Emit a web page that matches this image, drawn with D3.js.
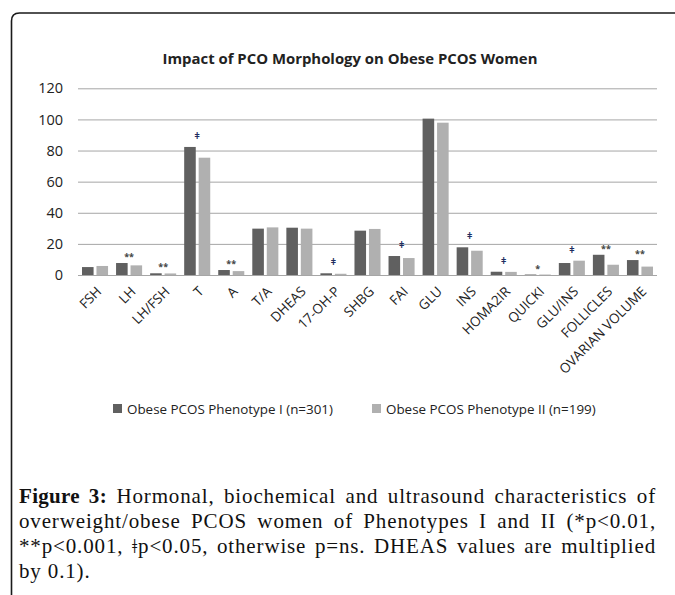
<!DOCTYPE html>
<html>
<head>
<meta charset="utf-8">
<script src="https://cdn.jsdelivr.net/npm/d3@7"></script>
<style>
  html, body { margin: 0; padding: 0; background: #fff; }
  #wrap { position: relative; width: 675px; height: 595px; overflow: hidden; }
  svg { position: absolute; left: 0; top: 0; }
  #caption { position: absolute; left: 19px; top: 484px; width: 637px;
    font-family: "Liberation Serif", "Times New Roman", serif; font-size: 21px; letter-spacing: 0.85px; color: #111; }
  #caption .ln { height: 25px; line-height: 25px; white-space: nowrap; }
  #caption .j { text-align: justify; text-align-last: justify; }
  #caption b { letter-spacing: 0.3px; }
</style>
</head>
<body>
<div id="wrap">
  <svg id="chart" width="675" height="595"></svg>
  <div id="caption"></div>
</div>
<script>
const categories = ["FSH","LH","LH/FSH","T","A","T/A","DHEAS","17-OH-P","SHBG","FAI","GLU","INS","HOMA2IR","QUICKI","GLU/INS","FOLLICLES","OVARIAN VOLUME"];
const phenotypeI  = [5.1, 7.7, 1.1, 82.3, 3.2, 29.8, 30.4, 1.1, 28.5, 12.2, 100.5, 17.8, 2.1, 0.3, 7.7, 13.0, 9.6];
const phenotypeII = [5.8, 6.2, 1.0, 75.4, 2.5, 30.6, 29.8, 0.8, 29.6, 10.9, 97.9, 15.6, 2.0, 0.3, 9.2, 6.6, 5.4];
const significance = ["", "**", "**", "ǂ", "**", "", "", "ǂ", "", "ǂ", "", "ǂ", "ǂ", "*", "ǂ", "**", "**"];
const seriesNames = ["Obese PCOS Phenotype I (n=301)", "Obese PCOS Phenotype II (n=199)"];
const yTicks = [0, 20, 40, 60, 80, 100, 120];
const title = "Impact of PCO Morphology on Obese PCOS Women";
const captionLines = [
  ["Figure 3:", " Hormonal, biochemical and ultrasound characteristics of"],
  ["", "overweight/obese PCOS women of Phenotypes I and II (*p<0.01,"],
  ["", "**p<0.001, ǂp<0.05, otherwise p=ns. DHEAS values are multiplied"],
  ["", "by 0.1)."]
];

const colors = ["#606060", "#b0b0b0"];
const sans = "'Open Sans', 'Liberation Sans', sans-serif";

const svg = d3.select("#chart");

// frame
svg.append("path")
  .attr("d", "M11.5,595 V21 Q11.5,13 19.5,13 H675")
  .attr("fill", "none").attr("stroke", "#1a1a1a").attr("stroke-width", 1.6);

const x = d3.scaleBand().domain(categories).range([78, 657]).paddingInner(0.235).paddingOuter(0.1175);
const x1 = d3.scaleBand().domain([0, 1]).range([0, x.bandwidth()]).paddingInner(0.2);
const y = d3.scaleLinear().domain([0, 120]).range([275, 88.3]);

// title
svg.append("text").attr("x", 350).attr("y", 64).attr("text-anchor", "middle")
  .attr("font-family", sans).attr("font-weight", 700).attr("font-size", 14.9)
  .attr("fill", "#222").text(title);

// gridlines + y axis
const yAxis = d3.axisLeft(y).tickValues(yTicks).tickSize(-(657 - 78)).tickPadding(15);
const gy = svg.append("g").attr("transform", "translate(78,0)").call(yAxis);
gy.select(".domain").remove();
gy.selectAll(".tick line").attr("stroke", "#a6a6a6").attr("stroke-width", 1);
gy.selectAll(".tick text").attr("font-family", sans).attr("font-size", 14.5).attr("fill", "#222");

// bars
const series = [phenotypeI, phenotypeII];
series.forEach((vals, si) => {
  svg.append("g").selectAll("rect").data(categories).join("rect")
    .attr("x", (c) => x(c) + x1(si))
    .attr("width", x1.bandwidth())
    .attr("y", (c, i) => y(vals[i]))
    .attr("height", (c, i) => y(0) - y(vals[i]))
    .attr("fill", colors[si]);
});

// significance marks
svg.append("g").selectAll("text").data(categories).join("text")
  .attr("x", (c) => x(c) + x.bandwidth() / 2)
  .attr("y", (c, i) => {
    const top = y(Math.max(phenotypeI[i], phenotypeII[i]));
    return significance[i] === "ǂ" ? top - 8 : top - 3;
  })
  .attr("text-anchor", "middle")
  .attr("font-family", sans).attr("font-size", 9).attr("font-weight", 700)
  .attr("fill", (c, i) => significance[i] === "ǂ" ? "#1f2d60" : "#444")
  .text((c, i) => significance[i]);

// x labels
svg.append("g").selectAll("text").data(categories).join("text")
  .attr("transform", (c) => `translate(${x(c) + x.bandwidth() / 2 + 4},${289}) rotate(-45)`)
  .attr("text-anchor", "end").attr("dy", "0.35em")
  .attr("font-family", sans).attr("font-size", 13.5).attr("fill", "#222")
  .text((c) => c);

// legend
const legX = [113, 372];
seriesNames.forEach((n, i) => {
  svg.append("rect").attr("x", legX[i]).attr("y", 404).attr("width", 9).attr("height", 9).attr("fill", colors[i]);
  svg.append("text").attr("x", legX[i] + 14).attr("y", 414)
    .attr("font-family", sans).attr("font-size", 13.4).attr("fill", "#222").text(n);
});

// caption
const cap = d3.select("#caption");
captionLines.forEach((ln, i) => {
  const d = cap.append("div").attr("class", i < captionLines.length - 1 ? "ln j" : "ln");
  if (ln[0]) d.append("b").text(ln[0]);
  d.append("span").text(ln[1]);
});
</script>
</body>
</html>
